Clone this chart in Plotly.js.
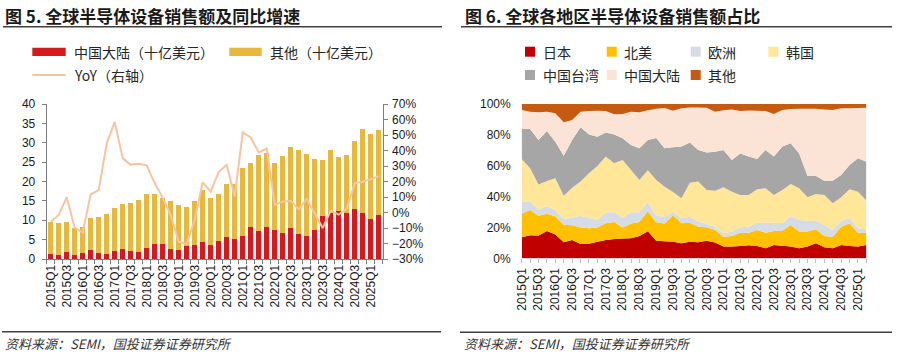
<!DOCTYPE html>
<html><head><meta charset="utf-8">
<script src="https://cdn.plot.ly/plotly-3.0.1.min.js"></script>
<style>html,body{margin:0;padding:0;background:#fff}#c{width:903px;height:354px}</style>
</head><body><div id="c"></div>
<script>
// ---------- data ----------
const quarters = [];
for (let y = 2015; y <= 2025; y++) for (let q = 1; q <= 4; q++) { if (y === 2025 && q > 2) break; quarters.push(y + 'Q' + q); }
const tickLabels = quarters.map((q, i) => i % 2 === 0 ? q : '');

// 图5: 销售额（十亿美元）
const chinaMainland = [1.3,1.1,1.8,1.1,1.6,2.3,1.5,1.3,2.1,2.6,2.0,1.9,2.8,3.9,4.0,2.7,2.3,3.4,3.6,4.4,3.5,4.7,5.8,5.1,6.0,8.3,7.3,8.2,7.5,6.6,7.9,6.5,5.9,7.5,11.1,12.0,12.5,12.0,12.9,11.9,10.2,11.4];
const others = [8.2,8.3,7.8,7.0,6.7,8.2,9.4,10.3,11.1,11.6,12.4,13.2,14.1,12.9,11.8,12.3,11.6,10.0,11.4,13.5,12.2,12.1,13.6,14.2,17.6,16.6,19.5,19.2,17.3,19.9,20.9,21.7,21.1,18.4,14.5,16.1,13.9,14.8,17.6,21.6,22.0,21.8];
const yoy = [-5.9,-1.6,9.8,-9.8,-13.0,11.7,14.5,44.6,58.4,34.9,30.9,31.5,30.4,18.8,9.6,-1.6,-18.8,-20.3,-4.8,19.5,13.5,26.2,30.8,10.2,51.7,48.4,38.8,41.3,5.1,7.0,7.6,2.0,8.7,-0.5,-10.0,1.2,-1.4,2.3,18.8,19.9,21.4,23.5];

// 图6: 各地区占比（%）
const japan = [13.6,15.0,14.8,17.7,15.4,10.4,11.9,9.2,9.5,10.8,11.9,12.5,12.8,13.0,14.5,17.5,11.4,11.0,10.8,9.7,10.8,10.4,11.4,10.2,7.6,7.6,8.0,8.4,8.0,6.5,8.6,8.2,7.6,6.5,7.6,9.7,7.1,6.5,8.6,8.0,7.6,8.6];
const northAmerica = [15.4,16.3,12.7,11.1,11.8,11.4,9.5,10.8,9.9,9.2,10.8,11.0,7.1,9.5,9.0,13.0,11.9,11.5,17.3,13.0,12.3,10.1,8.7,8.2,6.4,6.9,8.6,8.2,10.4,10.1,9.1,9.7,14.0,10.8,9.7,9.1,7.4,7.5,11.9,14.7,9.0,8.0];
const europe = [7.3,5.7,4.0,5.1,4.1,3.7,4.9,7.6,6.9,4.8,7.1,6.3,6.4,7.3,6.3,6.0,4.2,4.5,2.1,3.2,3.9,3.3,2.1,2.1,2.2,2.8,3.5,3.9,4.7,6.5,5.4,4.8,5.8,7.5,7.1,5.6,7.1,4.4,3.9,3.2,2.8,2.2];
const korea = [28.1,21.3,16.4,16.2,20.5,15.1,19.5,22.1,28.8,35.0,36.1,31.8,37.4,27.4,21.0,20.5,23.3,19.4,12.8,13.0,22.0,25.9,22.1,23.3,29.8,25.9,20.9,20.5,21.6,22.3,17.9,21.6,20.8,20.6,15.1,17.3,19.4,17.2,15.1,18.8,23.8,18.6];
const taiwan = [19.4,25.5,28.8,32.4,23.8,25.9,30.9,35.3,25.2,19.0,15.7,18.7,14.1,16.2,20.5,19.7,27.2,24.9,29.0,33.5,26.0,20.5,24.2,25.3,24.2,20.5,27.0,24.9,19.7,24.8,24.9,28.1,26.3,22.6,13.8,11.6,9.3,14.7,14.5,15.8,21.6,25.2];
const mainland = [12.3,11.2,17.9,12.5,18.4,21.6,12.9,10.0,15.2,16.9,13.9,13.0,15.7,21.6,23.3,19.3,19.0,26.1,23.7,24.8,22.8,27.6,29.0,25.9,25.8,32.8,27.5,29.9,31.3,25.3,27.6,23.7,22.3,29.0,43.7,43.7,46.2,45.8,43.2,36.7,32.6,35.0];
const otherRegions = [3.9,5.0,5.4,5.0,6.0,11.9,10.4,5.0,4.5,4.3,4.5,6.7,6.5,5.0,5.4,4.0,3.0,2.6,4.3,2.8,2.2,2.2,2.5,5.0,4.0,3.5,4.5,4.2,4.3,4.5,6.5,3.9,3.2,3.0,3.0,3.0,3.5,3.9,2.8,2.8,2.6,2.4];

// ---------- helpers ----------
const W = 903, H = 354;
const px = x => x / W, py = y => 1 - y / H;
const CJK = '"Noto Sans CJK SC", "Noto Sans", sans-serif';
const LAT = '"Liberation Sans", Arial, sans-serif';
const C = {red:'#d7191f', gold:'#e8b83c', yoy:'#f7c4a2',
  jp:'#c00000', na:'#ffc000', eu:'#d6dce5', kr:'#ffe699', tw:'#a6a6a6', cn:'#fbe4d5', ot:'#c55a11'};

const traces = [
  {type:'bar', x:quarters, y:chinaMainland, name:'中国大陆（十亿美元）', marker:{color:C.red}, xaxis:'x', yaxis:'y'},
  {type:'bar', x:quarters, y:others, name:'其他（十亿美元）', marker:{color:C.gold}, xaxis:'x', yaxis:'y'},
  {type:'scatter', mode:'lines', x:quarters, y:yoy, name:'YoY（右轴）', line:{color:C.yoy, width:2}, xaxis:'x', yaxis:'y2'}
];
const areas = [
  ['日本', japan, C.jp], ['北美', northAmerica, C.na], ['欧洲', europe, C.eu], ['韩国', korea, C.kr],
  ['中国台湾', taiwan, C.tw], ['中国大陆', mainland, C.cn], ['其他', otherRegions, C.ot]
];
areas.forEach(([n, v, col]) => traces.push({type:'scatter', x:quarters, y:v, name:n, stackgroup:'one', mode:'none',
  fillcolor:col, line:{width:0}, xaxis:'x3', yaxis:'y3'}));

const tickFont = {family:LAT, size:12, color:'#1a1a1a'};
const annotations = [], shapes = [];
function txt(x, y, t, size, opts) {
  annotations.push(Object.assign({xref:'paper', yref:'paper', x:px(x), y:py(y), xanchor:'left', yanchor:'middle',
    text:t, showarrow:false, font:{family:CJK, size:size, color:'#262626'}}, opts || {}));
}
function rect(x0, y0, x1, y1, col) {
  shapes.push({type:'rect', xref:'paper', yref:'paper', x0:px(x0), x1:px(x1), y0:py(y1), y1:py(y0), fillcolor:col, line:{width:0}});
}
function hline(x0, x1, y, col, w) {
  shapes.push({type:'line', xref:'paper', yref:'paper', x0:px(x0), x1:px(x1), y0:py(y), y1:py(y), line:{color:col, width:w}});
}

// titles, rules, sources
txt(3, 15, '<b>图 5. 全球半导体设备销售额及同比增速</b>', 17, {font:{family:CJK, size:17, color:'#1a1a1a'}});
txt(463, 15, '<b>图 6. 全球各地区半导体设备销售额占比</b>', 17, {font:{family:CJK, size:17, color:'#1a1a1a'}});
hline(3, 442, 26.7, '#404040', 1.5);
hline(461, 892, 26.7, '#404040', 1.5);
hline(2, 441, 331.7, '#404040', 1.5);
hline(460, 892, 332.3, '#404040', 1.5);
txt(3, 343.5, '<i>资料来源：SEMI，国投证券证券研究所</i>', 13, {font:{family:CJK, size:13, color:'#333'}});
txt(462, 343.5, '<i>资料来源：SEMI，国投证券证券研究所</i>', 13, {font:{family:CJK, size:13, color:'#333'}});

// left legend
rect(32.3, 47.7, 65.7, 56, C.red); txt(72, 52, traces[0].name, 14);
rect(229.3, 47.7, 261.7, 56, C.gold); txt(268, 52, traces[1].name, 14);
hline(32.3, 65.7, 75, C.yoy, 2); txt(72, 75.5, traces[2].name, 14);

// right legend
const legPos = [[525,51.7],[606.7,51.7],[690.7,51.7],[768.3,51.7],[525,75],[606.7,75],[690.7,75]];
areas.forEach(([n, v, col], i) => {
  const [x, y] = legPos[i];
  rect(x, y - 5, x + 10, y + 5, col);
  txt(x + 15.5, y + 0.5, n, 14);
});

const layout = {
  width:W, height:H, margin:{l:0, r:0, t:0, b:0}, paper_bgcolor:'#fff', plot_bgcolor:'rgba(0,0,0,0)',
  showlegend:false, barmode:'stack', bargap:0.36,
  xaxis:{type:'category', domain:[46.7/W, 382.7/W], anchor:'y', range:[-0.5, 41.5], tickmode:'array',
    tickvals:quarters, ticktext:tickLabels, tickangle:-90, tickson:'boundaries', ticks:'outside', ticklen:4,
    tickcolor:'#7f7f7f', showline:true, linecolor:'#7f7f7f', linewidth:1, showgrid:false, tickfont:tickFont, fixedrange:true},
  yaxis:{domain:[py(259), py(104)], anchor:'x', range:[0, 40], dtick:5, ticks:'outside', ticklen:4, tickcolor:'#7f7f7f',
    showline:true, linecolor:'#7f7f7f', showgrid:false, zeroline:false, tickfont:tickFont, ticklabelstandoff:4},
  yaxis2:{overlaying:'y', side:'right', anchor:'x', range:[-30, 70], dtick:10, ticksuffix:'%', ticks:'outside', ticklen:4,
    tickcolor:'#7f7f7f', showline:true, linecolor:'#7f7f7f', showgrid:false, zeroline:false, tickfont:tickFont, ticklabelstandoff:2},
  xaxis3:{type:'category', domain:[521.7/W, 866.4/W], anchor:'y3', range:[0, 41], tickmode:'array',
    tickvals:quarters, ticktext:tickLabels, tickangle:-90, ticks:'outside', ticklen:4, tickcolor:'#bfbfbf',
    showline:true, linecolor:'#d9d9d9', showgrid:false, tickfont:tickFont},
  yaxis3:{domain:[py(258.3), py(104)], anchor:'x3', range:[0, 100], dtick:20, ticksuffix:'%', ticks:'', showline:false,
    showgrid:false, zeroline:false, tickfont:tickFont, ticklabelstandoff:10},
  annotations, shapes
};
Plotly.newPlot('c', traces, layout, {displayModeBar:false, staticPlot:true});
</script></body></html>
